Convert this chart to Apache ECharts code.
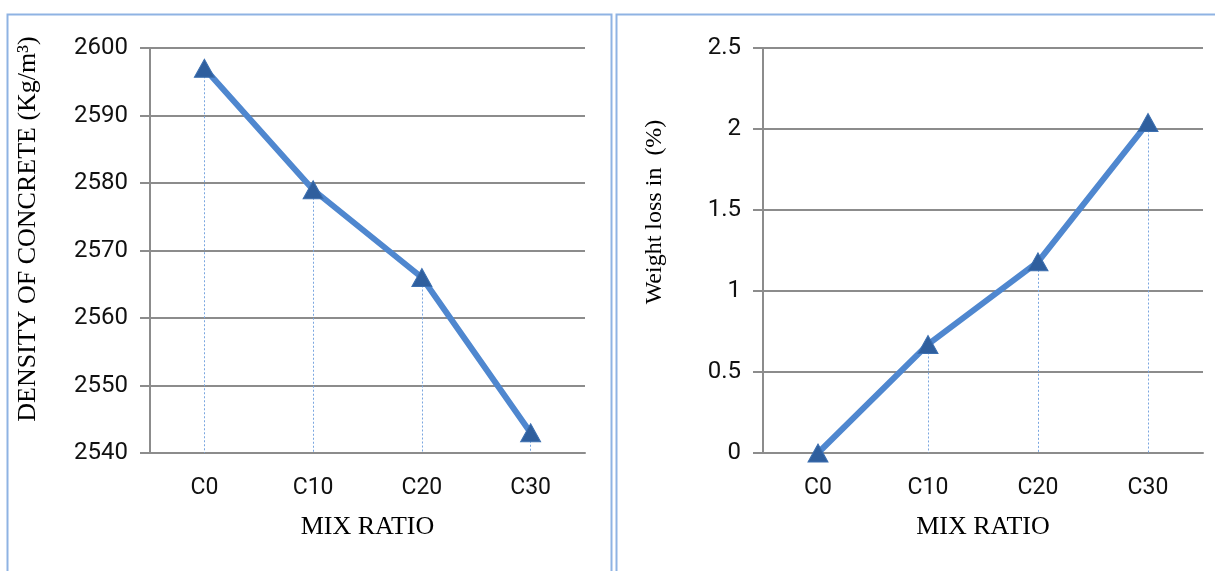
<!DOCTYPE html>
<html><head><meta charset="utf-8">
<script src="https://cdn.jsdelivr.net/npm/echarts@6/dist/echarts.min.js"></script>
<style>html,body{margin:0;padding:0;background:#fff}#c{width:1215px;height:571px}</style>
</head><body><div id="c"></div>
<script>
const categories = ['C0', 'C10', 'C20', 'C30'];
const densityValues = [2597, 2579, 2566, 2543];
const weightLossValues = [0, 0.67, 1.18, 2.04];
const densityTicks = { min: 2540, max: 2600, interval: 10 };
const lossTicks = { min: 0, max: 2.5, interval: 0.5 };

const chart = echarts.init(document.getElementById('c'), null, { renderer: 'canvas' });
const grey = '#8c8c8c';
const lineBlue = '#4f87cf';
const markBlue = '#2f5f9e';

function dropLines(vals, base) {
  return vals.map((v, i) => [{ coord: [categories[i], v] }, { coord: [categories[i], base] }]);
}
function xAxis(gridIndex) {
  return {
    type: 'category', gridIndex, data: categories, boundaryGap: true,
    axisLine: { show: true, lineStyle: { color: grey, width: 2 } },
    axisTick: { show: false },
    axisLabel: { color: '#111', fontFamily: 'Roboto', fontSize: 23, margin: 24 },
    name: 'MIX RATIO', nameLocation: 'middle', nameGap: 61,
    nameTextStyle: { color: '#000', fontFamily: 'Liberation Serif', fontSize: 26 }
  };
}
function yAxis(gridIndex, t) {
  return {
    type: 'value', gridIndex, min: t.min, max: t.max, interval: t.interval,
    axisLine: { show: true, lineStyle: { color: grey, width: 2 } },
    axisTick: { show: true, length: 10, lineStyle: { color: grey, width: 2 } },
    splitLine: { show: true, lineStyle: { color: grey, width: 2 } },
    axisLabel: { color: '#111', fontFamily: 'Roboto', fontSize: 24, margin: 22,
      formatter: v => String(v) }
  };
}
function series(idx, vals, base) {
  return {
    type: 'line', xAxisIndex: idx, yAxisIndex: idx, data: vals,
    lineStyle: { color: lineBlue, width: 6 },
    symbol: 'triangle', symbolSize: [20, 18],
    itemStyle: { color: markBlue, borderColor: '#3c6fb0', borderWidth: 1 },
    z: 3,
    markLine: {
      silent: true, symbol: 'none', label: { show: false },
      lineStyle: { color: '#7aa6e0', width: 1, type: [2, 2] },
      data: dropLines(vals, base), z: 1
    }
  };
}

chart.setOption({
  animation: false,
  grid: [
    { left: 150, top: 48, width: 435, height: 405 },
    { left: 763, top: 48, width: 440, height: 405 }
  ],
  xAxis: [xAxis(0), xAxis(1)],
  yAxis: [yAxis(0, densityTicks), yAxis(1, lossTicks)],
  series: [series(0, densityValues, densityTicks.min), series(1, weightLossValues, lossTicks.min)],
  graphic: [
    { type: 'rect', shape: { x: 7.5, y: 14.5, width: 604, height: 570 }, style: { fill: 'none', stroke: '#8fb3e3', lineWidth: 2 }, silent: true },
    { type: 'rect', shape: { x: 616.5, y: 14.5, width: 610, height: 570 }, style: { fill: 'none', stroke: '#8fb3e3', lineWidth: 2 }, silent: true },
    { type: 'text', x: 28, y: 229, rotation: Math.PI / 2,
      style: { text: 'DENSITY OF CONCRETE (Kg/m³)', fontFamily: 'Liberation Serif', fontSize: 26, fill: '#000', align: 'center', verticalAlign: 'middle' } },
    { type: 'text', x: 655, y: 212, rotation: Math.PI / 2,
      style: { text: 'Weight loss in  (%)', fontFamily: 'Liberation Serif', fontSize: 24, fill: '#000', align: 'center', verticalAlign: 'middle' } }
  ]
});
</script></body></html>
